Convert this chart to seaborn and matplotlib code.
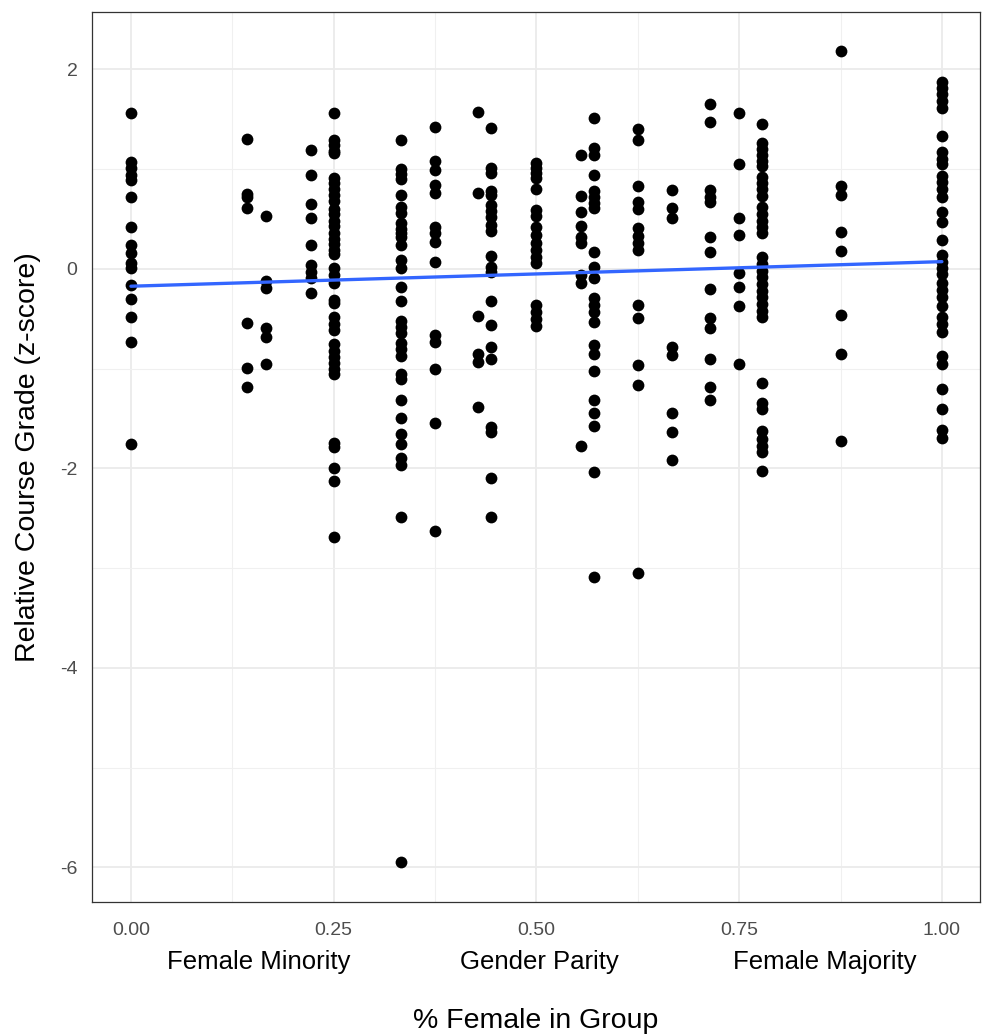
import numpy as np
import pandas as pd
import matplotlib
matplotlib.use("Agg")
import matplotlib.pyplot as plt
from matplotlib.ticker import MultipleLocator
import seaborn as sns

# ---- data: fraction female in group and relative grades per group-composition
frac_labels = ["0", "1/7", "1/6", "2/9", "1/4", "1/3", "3/8", "3/7", "4/9", "1/2",
               "5/9", "4/7", "5/8", "2/3", "5/7", "3/4", "7/9", "7/8", "1"]
frac_values = [0.0, 1/7, 1/6, 2/9, 0.25, 1/3, 3/8, 3/7, 4/9, 0.5,
               5/9, 4/7, 5/8, 2/3, 5/7, 0.75, 7/9, 7/8, 1.0]

g_0_00 = [1.56, 1.07, 1.01, 0.94, 0.89, 0.72, 0.42, 0.24, 0.16, 0.06, 0.01,
          -0.16, -0.30, -0.48, -0.73, -1.75]
g_1_7 = [1.30, 0.75, 0.72, 0.61, -0.54, -0.99, -1.18]
g_1_6 = [0.53, -0.12, -0.19, -0.59, -0.68, -0.95]
g_2_9 = [1.19, 0.94, 0.65, 0.51, 0.24, 0.04, -0.03, -0.09, -0.24]
g_1_4 = [1.56, 1.29, 1.24, 1.18, 1.16, 0.91, 0.86, 0.80, 0.74, 0.68, 0.60, 0.55,
         0.48, 0.43, 0.36, 0.30, 0.25, 0.19, 0.15, 0.01, -0.06, -0.14, -0.31,
         -0.34, -0.48, -0.55, -0.61, -0.75, -0.82, -0.88, -0.94, -1.00, -1.05,
         -1.74, -1.78, -2.00, -2.13, -2.69]
g_1_3 = [1.29, 1.00, 0.95, 0.90, 0.74, 0.62, 0.56, 0.46, 0.40, 0.36, 0.32, 0.24,
         0.09, 0.01, -0.18, -0.32, -0.52, -0.58, -0.64, -0.74, -0.80, -0.87,
         -1.05, -1.10, -1.31, -1.49, -1.65, -1.75, -1.90, -1.97, -2.49, -5.95]
g_3_8 = [1.42, 1.08, 0.99, 0.84, 0.76, 0.42, 0.36, 0.27, 0.07, -0.66, -0.73,
         -1.00, -1.54, -2.63]
g_3_7 = [1.57, 0.76, -0.47, -0.85, -0.93, -1.38]
g_4_9 = [1.41, 1.01, 0.96, 0.78, 0.74, 0.64, 0.58, 0.52, 0.44, 0.38, 0.13, 0.02,
         -0.03, -0.32, -0.56, -0.78, -0.90, -1.58, -1.63, -2.10, -2.49]
g_1_2 = [1.06, 1.01, 0.96, 0.91, 0.80, 0.59, 0.53, 0.42, 0.34, 0.26, 0.19, 0.12,
         0.06, -0.36, -0.43, -0.50, -0.57]
g_5_9 = [1.14, 0.73, 0.57, 0.43, 0.32, 0.26, -0.06, -0.14, -1.77]
g_4_7 = [1.51, 1.21, 1.14, 0.94, 0.78, 0.72, 0.66, 0.61, 0.17, 0.02, -0.09,
         -0.29, -0.36, -0.43, -0.53, -0.76, -0.85, -1.02, -1.31, -1.44, -1.57,
         -2.04, -3.09]
g_5_8 = [1.40, 1.29, 0.83, 0.67, 0.60, 0.41, 0.33, 0.26, 0.19, -0.36, -0.49,
         -0.96, -1.16, -3.05]
g_2_3 = [0.79, 0.61, 0.51, -0.78, -0.86, -1.44, -1.63, -1.92]
g_5_7 = [1.65, 1.47, 0.79, 0.72, 0.67, 0.32, 0.17, -0.20, -0.49, -0.59, -0.90,
         -1.18, -1.31]
g_3_4 = [1.56, 1.05, 0.51, 0.34, -0.04, -0.18, -0.37, -0.95]
g_7_9 = [1.45, 1.26, 1.20, 1.14, 1.08, 1.03, 0.92, 0.86, 0.80, 0.73, 0.62, 0.55,
         0.48, 0.42, 0.36, 0.12, 0.05, -0.02, -0.08, -0.15, -0.22, -0.28, -0.35,
         -0.42, -0.48, -1.14, -1.34, -1.40, -1.62, -1.70, -1.77, -1.83, -2.03]
g_7_8 = [2.19, 0.83, 0.74, 0.37, 0.18, -0.46, -0.85, -1.72]
g_1_00 = [1.87, 1.81, 1.75, 1.68, 1.61, 1.33, 1.17, 1.10, 1.05, 0.93, 0.87, 0.80,
          0.72, 0.57, 0.47, 0.29, 0.14, 0.07, 0.01, -0.05, -0.14, -0.21, -0.28,
          -0.37, -0.48, -0.55, -0.63, -0.87, -0.95, -1.20, -1.40, -1.61, -1.69]

grade_groups = [g_0_00, g_1_7, g_1_6, g_2_9, g_1_4, g_1_3, g_3_8, g_3_7, g_4_9,
                g_1_2, g_5_9, g_4_7, g_5_8, g_2_3, g_5_7, g_3_4, g_7_9, g_7_8,
                g_1_00]

x_tick_values = [0.0, 0.25, 0.5, 0.75, 1.0]
x_tick_labels = ["0.00", "0.25", "0.50", "0.75", "1.00"]
y_tick_values = [-6, -4, -2, 0, 2]
y_tick_labels = ["-6", "-4", "-2", "0", "2"]
region_labels = ["Female Minority", "Gender Parity", "Female Majority"]
region_centers = [0.158, 0.504, 0.856]

df = pd.DataFrame({
    "pct_female": np.concatenate([[f] * len(g) for f, g in zip(frac_values, grade_groups)]),
    "grade": np.concatenate(grade_groups),
})

# ---- plot
sns.set_theme(style="white")
plt.rcParams["font.family"] = ["Liberation Sans", "DejaVu Sans"]

fig = plt.figure(figsize=(9.88, 10.36), dpi=100)
ax = fig.add_axes([92 / 988, 1 - 902 / 1036, (980 - 92) / 988, (902 - 12) / 1036])

sns.regplot(data=df, x="pct_female", y="grade", ax=ax, ci=None, truncate=True,
            scatter_kws=dict(s=72, color="black", linewidths=0, alpha=1, zorder=3),
            line_kws=dict(color="#3366FF", linewidth=2.4, zorder=4))

ax.set_xlim(-0.048, 1.047)
ax.set_ylim(-6.346, 2.576)
ax.set_xticks(x_tick_values)
ax.set_xticklabels(x_tick_labels)
ax.set_yticks(y_tick_values)
ax.set_yticklabels(y_tick_labels)
ax.xaxis.set_minor_locator(MultipleLocator(0.125))
ax.yaxis.set_minor_locator(MultipleLocator(1))

ax.grid(True, which="major", color="#EBEBEB", linewidth=1.3, zorder=0)
ax.grid(True, which="minor", color="#F0F0F0", linewidth=0.8, zorder=0)
ax.set_axisbelow(True)

for s in ax.spines.values():
    s.set_color("#333333")
    s.set_linewidth(0.9)

ax.tick_params(axis="both", which="major", length=4, width=0.9, color="#333333",
               labelcolor="#4D4D4D", labelsize=14)
ax.tick_params(axis="x", which="major", pad=10.5)
ax.tick_params(axis="y", which="major", pad=6.5)
ax.tick_params(axis="both", which="minor", length=0)

ax_h = 890.0
ax_w = 888.0
ax.set_xlabel("% Female in Group", fontsize=20.5, color="black")
ax.xaxis.label.set_va("center")
ax.xaxis.set_label_coords(0.5, (902 - 1021) / ax_h)
ax.set_ylabel("Relative Course Grade (z-score)", fontsize=20.5, color="black")
ax.yaxis.label.set_va("center")
ax.yaxis.set_label_coords((28 - 92) / ax_w, 0.5)

trans = ax.get_xaxis_transform()
for lab, xc in zip(region_labels, region_centers):
    ax.text(xc, (902 - 962) / ax_h, lab, transform=trans, ha="center", va="center",
            fontsize=18.5, color="black", clip_on=False)

fig.savefig("out.png", dpi=100, facecolor="white")
